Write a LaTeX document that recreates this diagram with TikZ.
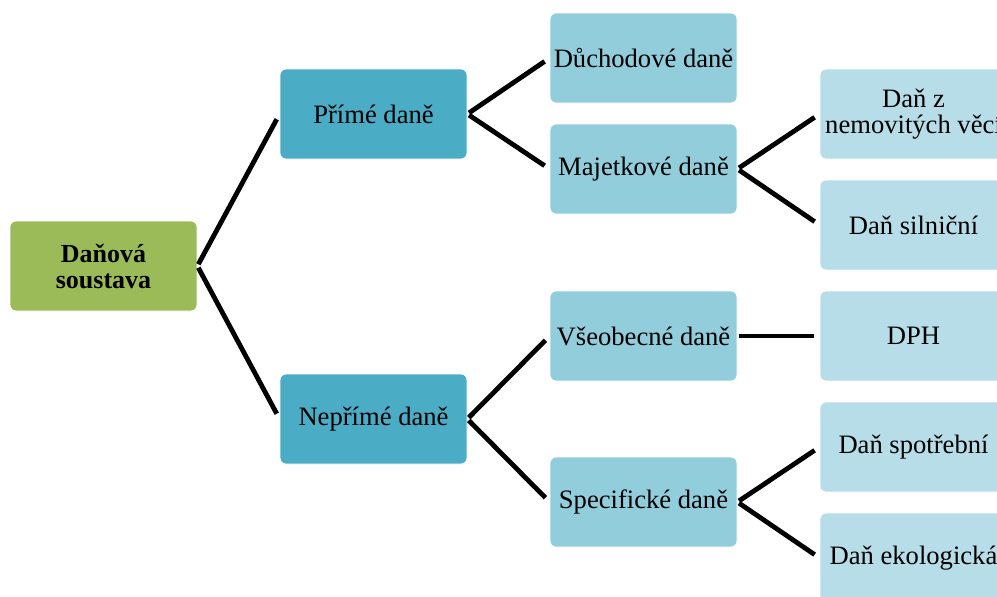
\documentclass[tikz,border=0pt]{standalone}
\usepackage{fontspec}
\setmainfont{Liberation Serif}
\usepackage{xcolor}
\usetikzlibrary{calc}

\definecolor{rootgreen}{HTML}{9BBB59}
\definecolor{lvlone}{HTML}{4BACC6}
\definecolor{lvltwo}{HTML}{92CDDC}
\definecolor{lvlthree}{HTML}{B7DDE8}

\begin{document}
\begin{tikzpicture}[x=0.5pt,y=-0.5pt,
%    every node/.style={draw},
    box/.style={draw=white,thin,rounded corners=3pt,minimum width=93.5pt,
      minimum height=45pt,inner sep=1pt,align=center,
      font=\fontsize{13.3}{13.3}\selectfont},
    link/.style={black,line width=2.4pt,shorten <=1pt,shorten >=3pt}]

    \useasboundingbox (0,0) rectangle (997,596);
    \clip (0,0) rectangle (997,596);

    \node[box,fill=rootgreen,font=\fontsize{13}{13}\selectfont\bfseries]
      (root) at (103.5,266) {Daňová\\soustava};

    \begin{scope}[every node/.append style={box,fill=lvlone}]
      \node (prime) at (373.5,114) {Přímé daně};
      \node (neprime) at (373.5,419) {Nepřímé daně};
    \end{scope}

    \begin{scope}[every node/.append style={box,fill=lvltwo}]
      \node (duch) at (643.5,58) {Důchodové daně};
      \node (majet) at (643.5,169) {Majetkové daně};
      \node (vseob) at (643.5,336) {Všeobecné daně};
      \node (spec) at (643.5,502) {Specifické daně};
    \end{scope}

    \begin{scope}[every node/.append style={box,fill=lvlthree}]
      \node (nemov) at (913.5,114) {Daň z\\nemovitých věcí};
      \node (silni) at (913.5,225) {Daň silniční};
      \node (dph) at (913.5,336) {DPH};
      \node (spotr) at (913.5,447) {Daň spotřební};
      \node (ekol) at (913.5,558) {Daň ekologická};
    \end{scope}

    \draw[link] (root.east) -- (prime.west);
    \draw[link] (root.east) -- (neprime.west);

    \draw[link] (prime.east) -- (duch.west);
    \draw[link] (prime.east) -- (majet.west);
    \draw[link] (neprime.east) -- (vseob.west);
    \draw[link] (neprime.east) -- (spec.west);

    \draw[link] (majet.east) -- (nemov.west);
    \draw[link] (majet.east) -- (silni.west);
    \draw[link] (vseob.east) -- (dph.west);
    \draw[link] (spec.east) -- (spotr.west);
    \draw[link] (spec.east) -- (ekol.west);
  \end{tikzpicture}
\end{document}
